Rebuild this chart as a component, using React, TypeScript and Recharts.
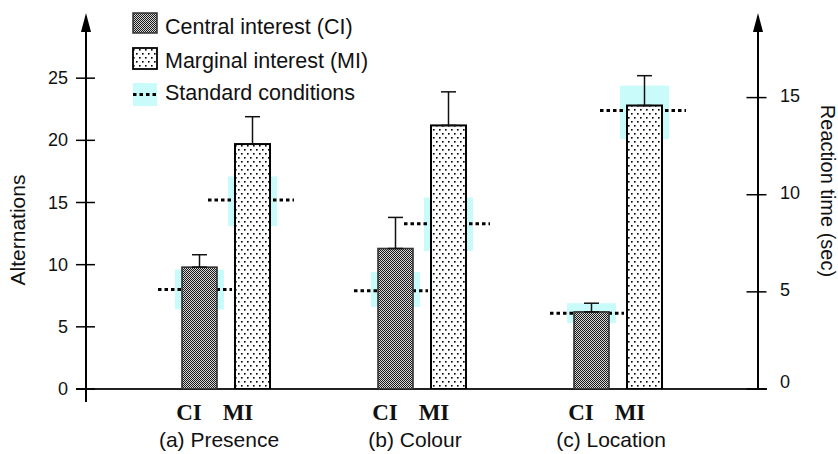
import React from 'react';
import { ComposedChart, Bar, XAxis, YAxis, ErrorBar } from 'recharts';

const CATEGORIES = ['(a) Presence', '(b) Colour', '(c) Location'];
const CI_VALUES = [9.8, 11.3, 6.2];
const CI_ERRORS = [1.0, 2.5, 0.7];
const MI_VALUES = [19.7, 21.2, 22.8];
const MI_ERRORS = [2.2, 2.7, 2.4];
const CI_STANDARD = [8.0, 7.9, 6.1];
const CI_STANDARD_LOW = [6.4, 6.6, 5.3];
const CI_STANDARD_HIGH = [9.6, 9.4, 6.9];
const MI_STANDARD = [15.2, 13.3, 22.4];
const MI_STANDARD_LOW = [13.1, 11.1, 20.1];
const MI_STANDARD_HIGH = [17.1, 15.4, 24.4];
const LEFT_TICKS = [0, 5, 10, 15, 20, 25];
const RIGHT_TICKS = [0, 5, 10, 15];
const LEFT_DOMAIN = [0, 30];
const RIGHT_DOMAIN = [0, 19.2];
const SERIES_LABELS = ['Central interest (CI)', 'Marginal interest (MI)', 'Standard conditions'];
const BAR_LABELS = ['CI', 'MI'];
const AXIS_LABELS = ['Alternations', 'Reaction time (sec)'];

const data = CATEGORIES.map((category, i) => ({
  category,
  ci: CI_VALUES[i],
  ciErr: [0, CI_ERRORS[i]],
  ciStd: CI_STANDARD[i],
  ciLo: CI_STANDARD_LOW[i],
  ciHi: CI_STANDARD_HIGH[i],
  mi: MI_VALUES[i],
  miErr: [0, MI_ERRORS[i]],
  miStd: MI_STANDARD[i],
  miLo: MI_STANDARD_LOW[i],
  miHi: MI_STANDARD_HIGH[i],
}));

const W = 838;
const H = 454;
const MARGIN = { top: 16, right: 10, bottom: 5, left: 10 };
const LEFT_AXIS_W = 76;
const RIGHT_AXIS_W = 70;
const XAXIS_H = 60;
const PLOT_LEFT = MARGIN.left + LEFT_AXIS_W;
const PLOT_RIGHT = W - MARGIN.right - RIGHT_AXIS_W;
const PLOT_BOTTOM = H - MARGIN.bottom - XAXIS_H;

const SANS = '"Liberation Sans", Arial, Helvetica, sans-serif';
const SERIF = '"Liberation Serif", "Times New Roman", serif';
const CYAN = '#c9fbfb';

const makeShape = (kind: 'ci' | 'mi') => (props: any) => {
  const { x, y, width, height, payload } = props;
  const value = payload[kind];
  const base = y + height;
  const k = value ? height / value : 0;
  const toY = (v: number) => base - v * k;
  const std = payload[kind + 'Std'];
  const lo = payload[kind + 'Lo'];
  const hi = payload[kind + 'Hi'];
  const leftExt = kind === 'ci' ? 24 : 27;
  const rightExt = kind === 'ci' ? 15 : 24;
  const yStd = toY(std);
  return (
    <g>
      <rect x={x - 7} y={toY(hi)} width={width + 14} height={toY(lo) - toY(hi)} fill={CYAN} />
      <line x1={x - leftExt} x2={x + width + rightExt} y1={yStd} y2={yStd} stroke="#000" strokeWidth={3} strokeDasharray="3.5 3" />
      <rect
        x={x}
        y={y}
        width={width}
        height={height}
        fill={kind === 'ci' ? 'url(#ciPat)' : 'url(#miPat)'}
        stroke={kind === 'ci' ? '#333' : '#000'}
        strokeWidth={kind === 'ci' ? 1.6 : 2}
      />
    </g>
  );
};

const LeftTick = (props: any) => {
  const { x, y, payload } = props;
  const ax = x + 18;
  return (
    <g>
      <line x1={ax - 10} x2={ax + 9} y1={y} y2={y} stroke="#000" strokeWidth={1.5} />
      <text x={ax - 18} y={y} dy={6} textAnchor="end" fontFamily={SANS} fontSize={18} fill="#111">
        {payload.value}
      </text>
    </g>
  );
};

const RightTick = (props: any) => {
  const { x, y, payload } = props;
  const ax = x - 22;
  return (
    <g>
      <line x1={ax - 11.5} x2={ax + 8.5} y1={y} y2={y} stroke="#000" strokeWidth={1.5} />
      <text x={ax + 22} y={y} dy={payload.value === 0 ? -1 : 4} textAnchor="start" fontFamily={SANS} fontSize={18} fill="#111">
        {payload.value}
      </text>
    </g>
  );
};

const CategoryTick = (props: any) => {
  const { x, y, payload } = props;
  return (
    <g>
      <text x={x - 37} y={y + 23} textAnchor="middle" fontFamily={SERIF} fontWeight="bold" fontSize={23} fill="#111">
        {BAR_LABELS[0]}
      </text>
      <text x={x + 12} y={y + 23} textAnchor="middle" fontFamily={SERIF} fontWeight="bold" fontSize={23} fill="#111">
        {BAR_LABELS[1]}
      </text>
      <text x={x - 7} y={y + 50} textAnchor="middle" fontFamily={SANS} fontSize={21} fill="#111">
        {payload.value}
      </text>
    </g>
  );
};

const Decor = () => (
  <g>
    <line x1={PLOT_LEFT} x2={PLOT_LEFT} y1={PLOT_BOTTOM + 13} y2={28} stroke="#000" strokeWidth={2} />
    <polygon points={`${PLOT_LEFT},13 ${PLOT_LEFT - 5},32 ${PLOT_LEFT + 5},32`} fill="#000" />
    <line x1={PLOT_RIGHT} x2={PLOT_RIGHT} y1={PLOT_BOTTOM} y2={28} stroke="#000" strokeWidth={2} />
    <polygon points={`${PLOT_RIGHT},13 ${PLOT_RIGHT - 5},32 ${PLOT_RIGHT + 5},32`} fill="#000" />
    <line x1={PLOT_LEFT - 10} x2={PLOT_RIGHT + 9} y1={PLOT_BOTTOM} y2={PLOT_BOTTOM} stroke="#222" strokeWidth={2} />
    <text transform={`translate(25, 230) rotate(-90)`} textAnchor="middle" fontFamily={SANS} fontSize={21} fill="#111">
      {AXIS_LABELS[0]}
    </text>
    <text transform={`translate(821, 191) rotate(90)`} textAnchor="middle" fontFamily={SANS} fontSize={20} fill="#111">
      {AXIS_LABELS[1]}
    </text>
    <rect x={133} y={13} width={24} height={20} fill="url(#ciPat)" stroke="#333" strokeWidth={1.5} />
    <text x={165} y={34} fontFamily={SANS} fontSize={21.5} fill="#111">{SERIES_LABELS[0]}</text>
    <rect x={133} y={48} width={24} height={21} fill="url(#miPat)" stroke="#000" strokeWidth={1.8} />
    <text x={165} y={68} fontFamily={SANS} fontSize={21.5} fill="#111">{SERIES_LABELS[1]}</text>
    <rect x={133} y={83} width={24} height={23} fill={CYAN} />
    <line x1={133} x2={158} y1={94.5} y2={94.5} stroke="#000" strokeWidth={3} strokeDasharray="3.5 3" />
    <text x={165} y={100} fontFamily={SANS} fontSize={21.5} fill="#111">{SERIES_LABELS[2]}</text>
  </g>
);

export default function App() {
  return (
    <div style={{ position: 'absolute', left: 0, top: 0, width: W, height: H, background: '#fff' }}>
      <ComposedChart width={W} height={H} data={data} margin={MARGIN} barSize={35} barGap={18}>
        <defs>
          <pattern id="ciPat" width="2" height="2" patternUnits="userSpaceOnUse">
            <rect width="2" height="2" fill="#d6d6d6" />
            <rect x="0" y="0" width="1" height="1" fill="#1a1a1a" />
            <rect x="1" y="1" width="1" height="1" fill="#1a1a1a" />
          </pattern>
          <pattern id="miPat" width="6" height="8" patternUnits="userSpaceOnUse">
            <rect width="6" height="8" fill="#fff" />
            <rect x="1" y="1" width="1.6" height="1.6" fill="#000" />
            <rect x="4" y="5" width="1.6" height="1.6" fill="#000" />
          </pattern>
        </defs>
        <XAxis
          dataKey="category"
          height={XAXIS_H}
          padding={{ left: 42, right: 42 }}
          axisLine={false}
          tickLine={false}
          tick={<CategoryTick />}
          interval={0}
        />
        <YAxis
          yAxisId="left"
          orientation="left"
          width={LEFT_AXIS_W}
          domain={LEFT_DOMAIN}
          ticks={LEFT_TICKS}
          axisLine={false}
          tickLine={false}
          tickSize={10}
          tickMargin={8}
          tick={<LeftTick />}
          allowDataOverflow
        />
        <YAxis
          yAxisId="right"
          orientation="right"
          width={RIGHT_AXIS_W}
          domain={RIGHT_DOMAIN}
          ticks={RIGHT_TICKS}
          axisLine={false}
          tickLine={false}
          tickSize={10}
          tickMargin={12}
          tick={<RightTick />}
          allowDataOverflow
        />
        <Bar yAxisId="left" dataKey="ci" shape={makeShape('ci')} isAnimationActive={false}>
          <ErrorBar dataKey="ciErr" direction="y" width={7.5} stroke="#111" strokeWidth={1.5} isAnimationActive={false} />
        </Bar>
        <Bar yAxisId="left" dataKey="mi" shape={makeShape('mi')} isAnimationActive={false}>
          <ErrorBar dataKey="miErr" direction="y" width={7.5} stroke="#111" strokeWidth={1.5} isAnimationActive={false} />
        </Bar>
        <Decor />
      </ComposedChart>
    </div>
  );
}
